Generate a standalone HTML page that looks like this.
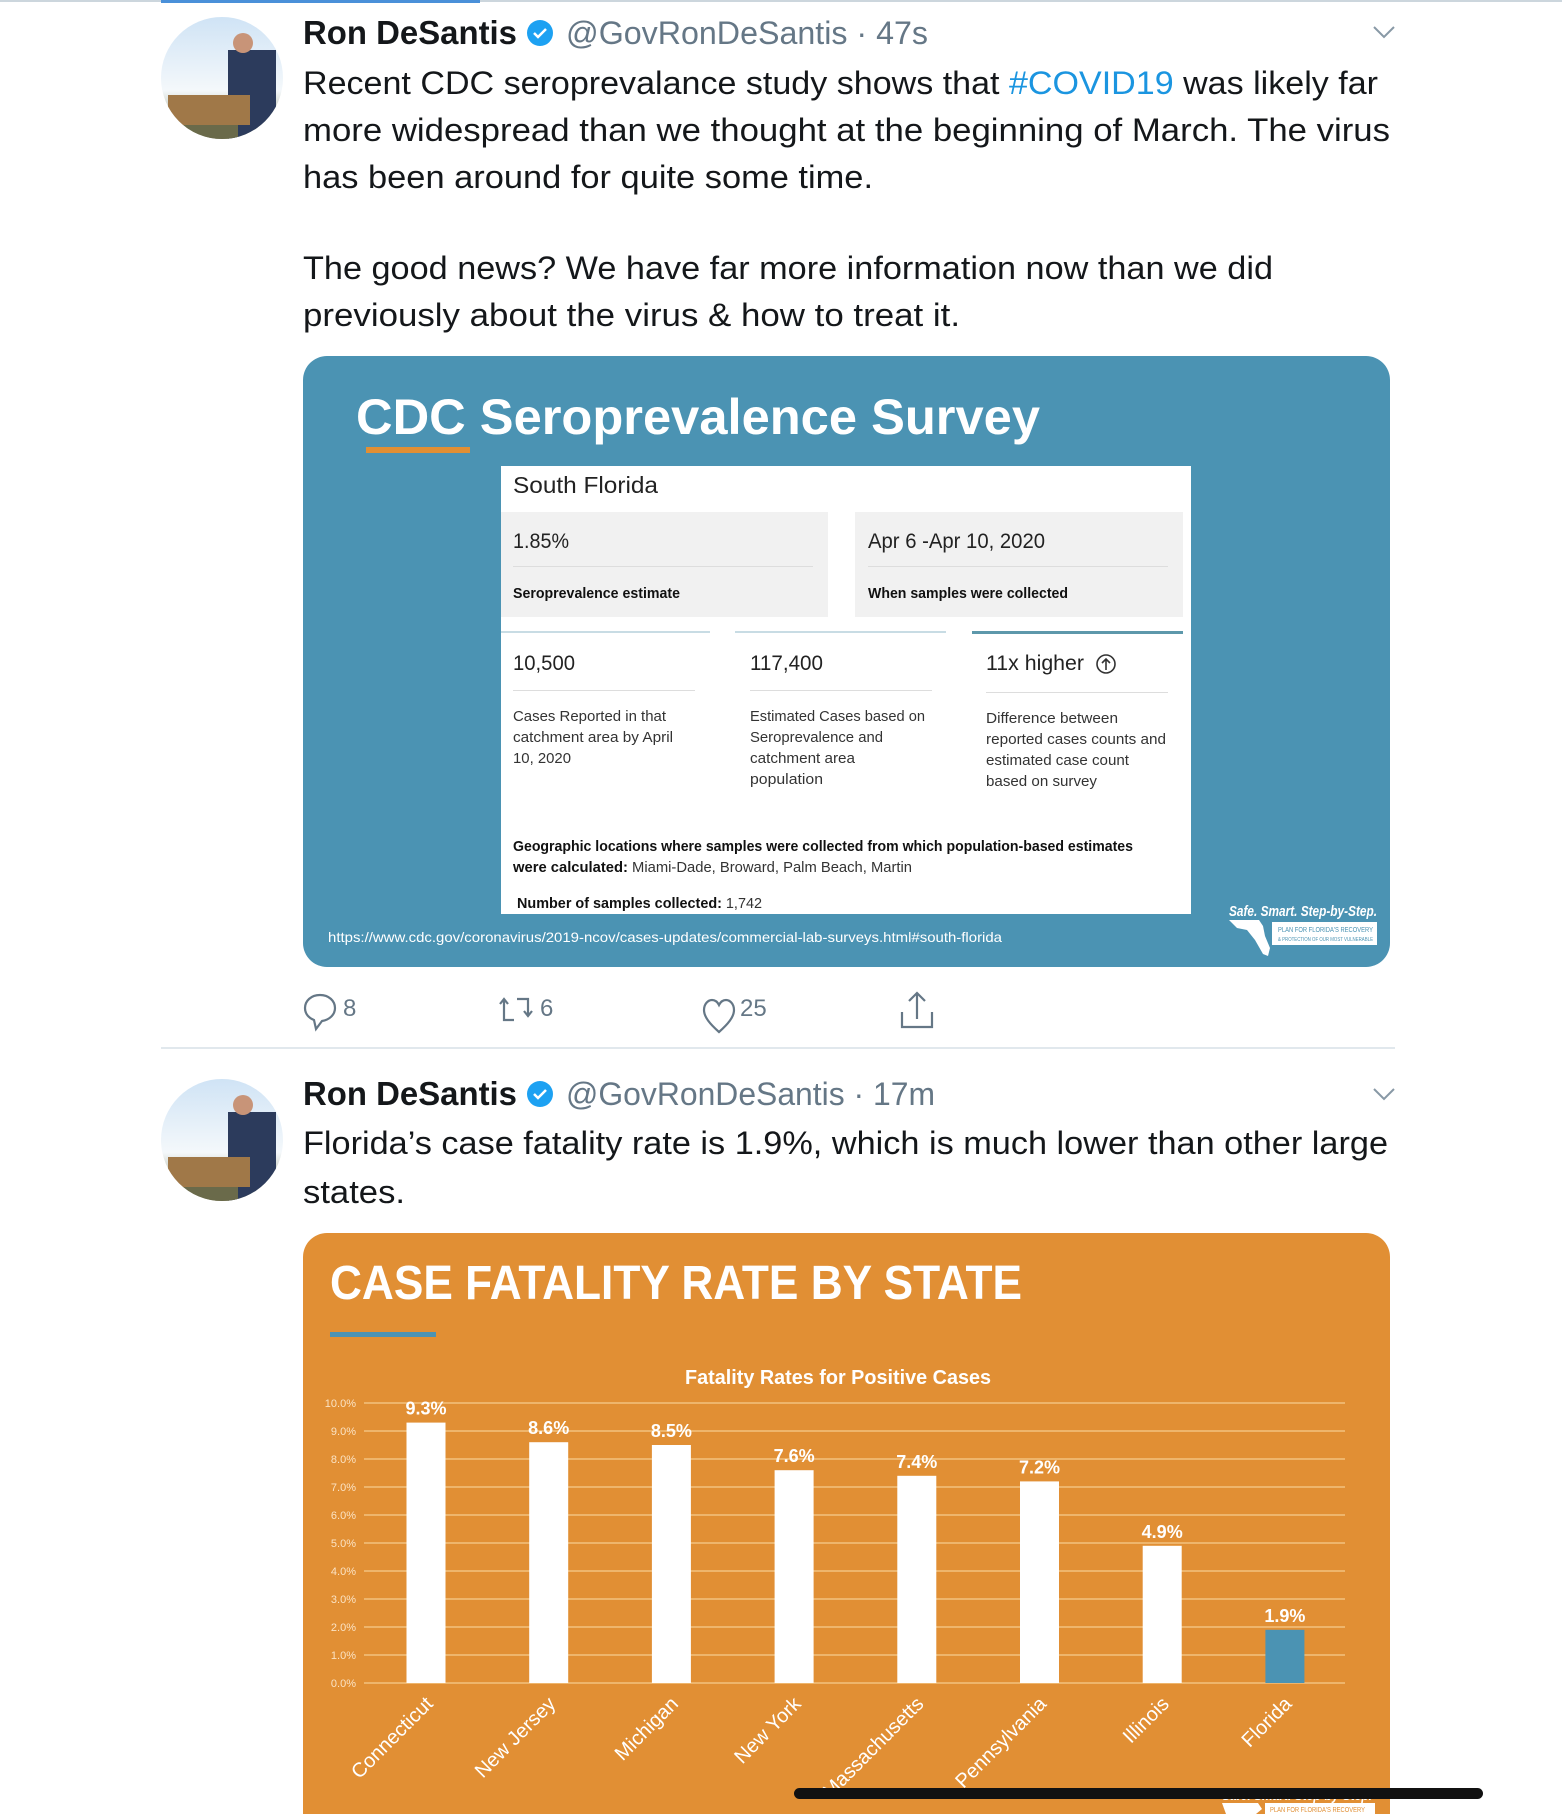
<!DOCTYPE html>
<html><head><meta charset="utf-8"><style>
html,body{margin:0;padding:0;background:#fff;width:1562px;height:1814px;overflow:hidden}
svg{display:block}
text{font-family:"Liberation Sans",sans-serif}
</style></head><body>
<svg id="root" width="1562" height="1814" viewBox="0 0 1562 1814">
<defs>
<linearGradient id="sky" x1="0" y1="0" x2="0" y2="1"><stop offset="0" stop-color="#cfe3f5"/><stop offset="0.6" stop-color="#f4f8fb"/><stop offset="1" stop-color="#8a8f6a"/></linearGradient>
<clipPath id="av1"><circle cx="222" cy="78" r="61"/></clipPath>
<clipPath id="av2"><circle cx="222" cy="1140" r="61"/></clipPath>
</defs>
<rect x="0" y="0" width="1562" height="2" fill="#ccd6dd"/>
<rect x="161" y="0" width="319" height="3" fill="#4a90d9"/>

<!-- Tweet 1 -->
<g>
<g clip-path="url(#av1)">
<rect x="160" y="16" width="124" height="124" fill="url(#sky)"/>
<rect x="228" y="50" width="48" height="90" fill="#2c3b5c"/>
<circle cx="243" cy="43" r="10" fill="#c89478"/>
<rect x="168" y="95" width="82" height="30" fill="#a07848"/>
<rect x="178" y="125" width="60" height="15" fill="#6a6a4a"/>
</g>
<text x="303" y="44" font-size="33" font-weight="bold" fill="#14171a" textLength="214" lengthAdjust="spacingAndGlyphs">Ron DeSantis</text>
<circle cx="540" cy="33" r="13" fill="#1da1f2"/>
<path d="M534 33 l4 4 l8 -8" stroke="#fff" stroke-width="2.5" fill="none"/>
<text x="566" y="44" font-size="32" fill="#657786" textLength="362" lengthAdjust="spacingAndGlyphs">@GovRonDeSantis · 47s</text>
<path d="M1374 27 l10 10 l10 -10" stroke="#8899a6" stroke-width="2" fill="none"/>
<g font-size="32" fill="#14171a">
<text x="303" y="94" textLength="1075" lengthAdjust="spacingAndGlyphs">Recent CDC seroprevalance study shows that <tspan fill="#1b95e0">#COVID19</tspan> was likely far</text>
<text x="303" y="141" textLength="1087" lengthAdjust="spacingAndGlyphs">more widespread than we thought at the beginning of March. The virus</text>
<text x="303" y="188" textLength="570" lengthAdjust="spacingAndGlyphs">has been around for quite some time.</text>
<text x="303" y="279" textLength="970" lengthAdjust="spacingAndGlyphs">The good news? We have far more information now than we did</text>
<text x="303" y="326" textLength="657" lengthAdjust="spacingAndGlyphs">previously about the virus &amp; how to treat it.</text>
</g>

<g>
<rect x="303" y="356" width="1087" height="611" rx="24" fill="#4b93b3"/>
<text x="356" y="434" font-size="50" font-weight="bold" fill="#fff" textLength="684" lengthAdjust="spacingAndGlyphs">CDC Seroprevalence Survey</text>
<rect x="366" y="447" width="104" height="6" fill="#e18f34"/>
<rect x="501" y="466" width="690" height="448" fill="#fff"/>
<text x="513" y="493" font-size="23" fill="#222" textLength="145" lengthAdjust="spacingAndGlyphs">South Florida</text>
<rect x="501" y="512" width="327" height="105" fill="#f1f1f1"/>
<rect x="855" y="512" width="328" height="105" fill="#f1f1f1"/>
<text x="513" y="548" font-size="21" fill="#222" textLength="56" lengthAdjust="spacingAndGlyphs">1.85%</text>
<text x="868" y="548" font-size="21" fill="#222" textLength="177" lengthAdjust="spacingAndGlyphs">Apr 6 -Apr 10, 2020</text>
<rect x="513" y="566" width="300" height="1" fill="#ddd"/>
<rect x="868" y="566" width="300" height="1" fill="#ddd"/>
<text x="513" y="598" font-size="15" font-weight="bold" fill="#111" textLength="167" lengthAdjust="spacingAndGlyphs">Seroprevalence estimate</text>
<text x="868" y="598" font-size="15" font-weight="bold" fill="#111" textLength="200" lengthAdjust="spacingAndGlyphs">When samples were collected</text>
<rect x="501" y="631" width="209" height="2" fill="#c8dce4"/>
<rect x="735" y="631" width="211" height="2" fill="#c8dce4"/>
<rect x="972" y="631" width="211" height="3" fill="#5d98ab"/>
<text x="513" y="670" font-size="21" fill="#222" textLength="62" lengthAdjust="spacingAndGlyphs">10,500</text>
<text x="750" y="670" font-size="21" fill="#222" textLength="73" lengthAdjust="spacingAndGlyphs">117,400</text>
<text x="986" y="670" font-size="21" fill="#222" textLength="98" lengthAdjust="spacingAndGlyphs">11x higher</text>
<circle cx="1106" cy="664" r="9" fill="none" stroke="#333" stroke-width="1.6"/>
<path d="M1106 670 v-11 M1102 663 l4 -4 l4 4" stroke="#333" stroke-width="1.6" fill="none"/>
<rect x="513" y="690" width="182" height="1" fill="#ddd"/>
<rect x="750" y="690" width="182" height="1" fill="#ddd"/>
<rect x="986" y="692" width="182" height="1" fill="#ddd"/>
<g font-size="15" fill="#333">
<text x="513" y="721" textLength="153" lengthAdjust="spacingAndGlyphs">Cases Reported in that</text>
<text x="513" y="742" textLength="160" lengthAdjust="spacingAndGlyphs">catchment area by April</text>
<text x="513" y="763" textLength="58" lengthAdjust="spacingAndGlyphs">10, 2020</text>
<text x="750" y="721" textLength="175" lengthAdjust="spacingAndGlyphs">Estimated Cases based on</text>
<text x="750" y="742" textLength="133" lengthAdjust="spacingAndGlyphs">Seroprevalence and</text>
<text x="750" y="763" textLength="105" lengthAdjust="spacingAndGlyphs">catchment area</text>
<text x="750" y="784" textLength="73" lengthAdjust="spacingAndGlyphs">population</text>
<text x="986" y="723" textLength="132" lengthAdjust="spacingAndGlyphs">Difference between</text>
<text x="986" y="744" textLength="180" lengthAdjust="spacingAndGlyphs">reported cases counts and</text>
<text x="986" y="765" textLength="143" lengthAdjust="spacingAndGlyphs">estimated case count</text>
<text x="986" y="786" textLength="111" lengthAdjust="spacingAndGlyphs">based on survey</text>
</g>
<text x="513" y="851" font-size="15" font-weight="bold" fill="#111" textLength="620" lengthAdjust="spacingAndGlyphs">Geographic locations where samples were collected from which population-based estimates</text>
<text x="513" y="872" font-size="15" fill="#333" textLength="399" lengthAdjust="spacingAndGlyphs"><tspan font-weight="bold" fill="#111">were calculated:</tspan> Miami-Dade, Broward, Palm Beach, Martin</text>
<text x="517" y="908" font-size="15" fill="#333" textLength="245" lengthAdjust="spacingAndGlyphs"><tspan font-weight="bold" fill="#111">Number of samples collected:</tspan>  1,742</text>
<text x="328" y="942" font-size="14" fill="#fff" textLength="674" lengthAdjust="spacingAndGlyphs">https://www.cdc.gov/coronavirus/2019-ncov/cases-updates/commercial-lab-surveys.html#south-florida</text>
<g>
<text x="1229" y="916" font-size="15" font-weight="bold" font-style="italic" fill="#fff" textLength="148" lengthAdjust="spacingAndGlyphs">Safe. Smart. Step-by-Step.</text>
<rect x="1272" y="922" width="105" height="23" fill="#fff"/>
<text x="1278" y="932" font-size="7" fill="#4b93b3" textLength="95" lengthAdjust="spacingAndGlyphs">PLAN FOR FLORIDA'S RECOVERY</text>
<text x="1278" y="941" font-size="5" fill="#4b93b3" textLength="95" lengthAdjust="spacingAndGlyphs">&amp; PROTECTION OF OUR MOST VULNERABLE</text>
<path d="M1229 920 h30 l4 6 l2 10 l5 12 l-2 8 l-5 -2 l-8 -14 l-8 -10 l-10 -2z" fill="#fff"/>
</g>
</g>

<g stroke="#657786" stroke-width="2.2" fill="none">
<g><path d="M320 995 c-9 0 -15 6 -15 13 c0 6 4 10 9 12 l2 9 l6 -8 c7 -1 13 -6 13 -13 c0 -7 -6 -13 -15 -13z"/></g>
<g><path d="M504 1000 v20 h10 M500 1004 l4 -5 l4 5 M528 1015 v-16 h-11 M524 1011 l4 5 l4 -5"/></g>
<g><path d="M719 1032 c-9 -8 -15 -15 -15 -22 c0 -6 4 -10 8 -10 c4 0 6 3 7 5 c1 -2 3 -5 7 -5 c4 0 8 4 8 10 c0 7 -6 14 -15 22z"/></g>
<g><path d="M917 1019 v-25 M909 1001 l8 -8 l8 8 M902 1012 v15 h30 v-15"/></g>
</g>
<g font-size="24" fill="#657786">
<text x="343" y="1016">8</text>
<text x="540" y="1016">6</text>
<text x="740" y="1016">25</text>
</g>
</g>
<rect x="161" y="1047" width="1234" height="2" fill="#e1e8ed"/>

<!-- Tweet 2 -->
<g>
<g clip-path="url(#av2)">
<rect x="160" y="1078" width="124" height="124" fill="url(#sky)"/>
<rect x="228" y="1112" width="48" height="90" fill="#2c3b5c"/>
<circle cx="243" cy="1105" r="10" fill="#c89478"/>
<rect x="168" y="1157" width="82" height="30" fill="#a07848"/>
<rect x="178" y="1187" width="60" height="15" fill="#6a6a4a"/>
</g>
<text x="303" y="1105" font-size="33" font-weight="bold" fill="#14171a" textLength="214" lengthAdjust="spacingAndGlyphs">Ron DeSantis</text>
<circle cx="540" cy="1094" r="13" fill="#1da1f2"/>
<path d="M534 1094 l4 4 l8 -8" stroke="#fff" stroke-width="2.5" fill="none"/>
<text x="566" y="1105" font-size="32" fill="#657786" textLength="369" lengthAdjust="spacingAndGlyphs">@GovRonDeSantis · 17m</text>
<path d="M1374 1089 l10 10 l10 -10" stroke="#8899a6" stroke-width="2" fill="none"/>
<text x="303" y="1154" font-size="32" fill="#14171a" textLength="1085" lengthAdjust="spacingAndGlyphs">Florida’s case fatality rate is 1.9%, which is much lower than other large</text>
<text x="303" y="1203" font-size="32" fill="#14171a" textLength="102" lengthAdjust="spacingAndGlyphs">states.</text>

<g>
<path d="M303 1257 a24 24 0 0 1 24 -24 h1039 a24 24 0 0 1 24 24 V1814 H303z" fill="#e18f34"/>
<text x="330" y="1299" font-size="48" font-weight="bold" fill="#fff" textLength="692" lengthAdjust="spacingAndGlyphs">CASE FATALITY RATE BY STATE</text>
<rect x="330" y="1332" width="106" height="5" fill="#4b93b3"/>
<text x="685" y="1384" font-size="20" font-weight="bold" fill="#fff" textLength="306" lengthAdjust="spacingAndGlyphs">Fatality Rates for Positive Cases</text>
<g id="chart"></g>
<g>
<text x="1222" y="1800" font-size="15" font-weight="bold" font-style="italic" fill="#fff" textLength="150" lengthAdjust="spacingAndGlyphs">Safe. Smart. Step-by-Step.</text>
<rect x="1265" y="1803" width="110" height="11" fill="#fff"/>
<text x="1270" y="1812" font-size="7" fill="#e18f34" textLength="95" lengthAdjust="spacingAndGlyphs">PLAN FOR FLORIDA'S RECOVERY</text>
<path d="M1222 1803 h36 l4 6 l-6 5 h-30z" fill="#fff"/>
</g>
</g>
</g>
<rect x="794" y="1788" width="689" height="11" rx="5.5" fill="#111"/>
</svg>
<script>
const categories = ["Connecticut","New Jersey","Michigan","New York","Massachusetts","Pennsylvania","Illinois","Florida"];
const rates = [9.3, 8.6, 8.5, 7.6, 7.4, 7.2, 4.9, 1.9];
const rateLabels = ["9.3%","8.6%","8.5%","7.6%","7.4%","7.2%","4.9%","1.9%"];
const tickValues = [0,1,2,3,4,5,6,7,8,9,10];
const tickLabels = ["0.0%","1.0%","2.0%","3.0%","4.0%","5.0%","6.0%","7.0%","8.0%","9.0%","10.0%"];
const highlight = ["Florida"];

const NS = "http://www.w3.org/2000/svg";
const g = document.getElementById("chart");
const plotL = 364, plotR = 1345, y0 = 1683, y10 = 1403;
const firstCenter = 426, step = 122.7, barW = 39;
function yScale(v){ return y0 - (v / 10) * (y0 - y10); }
function xScale(i){ return firstCenter + i * step; }
function mk(tag, attrs){ const e = document.createElementNS(NS, tag); for (const k in attrs) e.setAttribute(k, attrs[k]); return e; }

tickValues.forEach((t, i) => {
  const y = yScale(t);
  const line = mk("line", {x1: plotL, x2: plotR, y1: y, y2: y, stroke: "#f2c27e", "stroke-width": 1.5});
  
  
  g.appendChild(line);
  const lab = mk("text", {x: 356, y: y + 4, "text-anchor": "end", "font-size": 11, fill: "#fbe3c4"});
  lab.textContent = tickLabels[i];
  
  
  g.appendChild(lab);
});

categories.forEach((c, i) => {
  const cx = xScale(i), top = yScale(rates[i]);
  const bar = mk("rect", {x: cx - barW / 2, y: top, width: barW, height: y0 - top, fill: highlight.includes(c) ? "#4b93b3" : "#ffffff"});
  
  
  g.appendChild(bar);
  const v = mk("text", {x: cx, y: top - 8, "text-anchor": "middle", "font-size": 18, "font-weight": "bold", fill: "#fff"});
  v.textContent = rateLabels[i];
  
  
  g.appendChild(v);
  const xl = mk("text", {x: 0, y: 0, "text-anchor": "end", "font-size": 20, fill: "#fff", transform: "translate(" + (cx + 8) + "," + (y0 + 22) + ") rotate(-45)"});
  xl.textContent = c;
  
  
  g.appendChild(xl);
});
</script>
</body></html>
